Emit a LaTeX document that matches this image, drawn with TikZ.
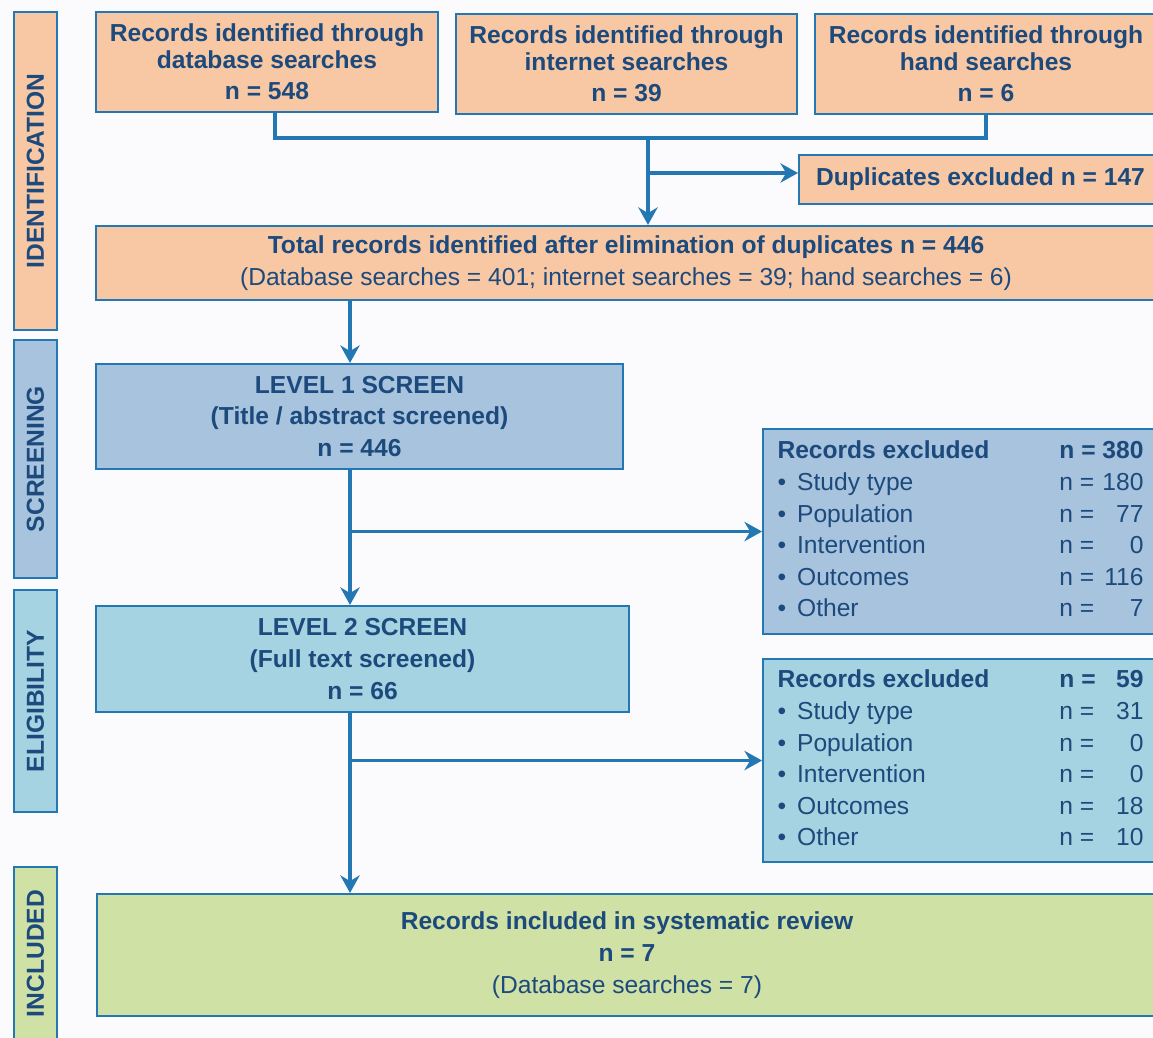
\documentclass[tikz,border=0pt]{standalone}
\usepackage{fontspec}
\setmainfont{Liberation Sans}
\usepackage{tikz}
\usetikzlibrary{arrows.meta,positioning}
\definecolor{edge}{HTML}{2378B4}
\definecolor{ink}{HTML}{1C4A7C}
\definecolor{idfill}{HTML}{F8C8A4}
\definecolor{scrfill}{HTML}{A7C3DD}
\definecolor{elifill}{HTML}{A5D3E2}
\definecolor{incfill}{HTML}{D0E1A5}
\definecolor{paper}{HTML}{FBFBFD}
\newcommand{\itm}{\textbullet\hspace{0.45em}}
\tikzset{>={Stealth[length=10pt,width=11pt]}}

\begin{document}
\begin{tikzpicture}[x=0.02cm,y=-0.02cm,
	every node/.style={text=ink,font=\fontsize{14pt}{18pt}\selectfont\bfseries},
	box/.style={draw=edge,line width=1.2pt,align=center,inner sep=0pt},
	flow/.style={draw=edge,line width=1.8pt}]
		\useasboundingbox (0,0) rectangle (1153,1038);
		\clip (0,0) rectangle (1153,1038);
		\fill[paper] (0,0) rectangle (1153,1038);
		\node[box,fill=idfill,rotate=90,minimum width=6.36cm,minimum height=0.86cm](sid) at (35.5,171){IDENTIFICATION};
		\node[box,fill=scrfill,rotate=90,minimum width=4.76cm,minimum height=0.86cm](sscr) at (35.5,459){SCREENING};
		\node[box,fill=elifill,rotate=90,minimum width=4.44cm,minimum height=0.86cm](selig) at (35.5,701){ELIGIBILITY};
		\node[box,fill=incfill,rotate=90,minimum width=3.46cm,minimum height=0.86cm](sinc) at (35.5,953.5){INCLUDED};
		\node[box,fill=idfill,minimum width=6.84cm,minimum height=2cm](db) at (267,62){Records identified through\\[-3pt]database searches\\n = 548};
		\node[box,fill=idfill,minimum width=6.82cm,minimum height=2cm](web) at (626.5,64){Records identified through\\[-3pt]internet searches\\n = 39};
		\node[box,fill=idfill,minimum width=6.84cm,minimum height=2cm](hand) at (986,64){Records identified through\\[-3pt]hand searches\\n = 6};
		\node[box,fill=idfill,anchor=west,minimum width=7.26cm,minimum height=0.98cm](dup) at (798,179.5){Duplicates excluded n = 147};
		\node[box,fill=idfill,minimum width=21.2cm,minimum height=1.48cm](tot) at (626,263){Total records identified after elimination of duplicates n = 446\\\textmd{(Database searches = 401; internet searches = 39; hand searches = 6)}};
		\node[box,fill=scrfill,minimum width=10.54cm,minimum height=2.1cm](lv1) at (359.5,416.5){LEVEL 1 SCREEN\\(Title / abstract screened)\\n = 446};
		\node[box,fill=elifill,minimum width=10.66cm,minimum height=2.12cm](lv2) at (362.5,659){LEVEL 2 SCREEN\\(Full text screened)\\n = 66};
		\node[box,fill=scrfill,anchor=north west,inner xsep=0.26cm,minimum width=7.9cm,minimum height=4.1cm](ex1) at (762,428){\mdseries
			\begin{tabular}{@{}p{5.64cm}@{}l@{\ }r@{}}
				\textbf{Records excluded} & \textbf{n =} & \textbf{380}\\
				\itm Study type & n = & 180\\
				\itm Population & n = & 77\\
				\itm Intervention & n = & 0\\
				\itm Outcomes & n = & 116\\
				\itm Other & n = & 7
			\end{tabular}};
		\node[box,fill=elifill,anchor=north west,inner xsep=0.26cm,minimum width=7.9cm,minimum height=4.06cm](ex2) at (762,658){\mdseries
			\begin{tabular}{@{}p{5.64cm}@{}l@{\ }r@{}}
				\textbf{Records excluded} & \textbf{n =} & \textbf{\hphantom{0}59}\\
				\itm Study type & n = & 31\\
				\itm Population & n = & 0\\
				\itm Intervention & n = & 0\\
				\itm Outcomes & n = & 18\\
				\itm Other & n = & 10
			\end{tabular}};
		\node[box,fill=incfill,minimum width=21.2cm,minimum height=2.44cm](inc) at (627,955){Records included in systematic review\\n = 7\\\textmd{(Database searches = 7)}};
		\coordinate(j0) at (275,112);
		\coordinate(j1) at (648,138);
		\coordinate(j2) at (648,173);
		\coordinate(s1) at (350,300);
		\coordinate(s2) at (350,469);
		\coordinate(s3) at (350,712);
		\draw[flow](j0)|-(hand.south|-j1)--(hand.south);
		\draw[flow,->](j1)--(j1|-tot.north);
		\draw[flow,->](j2)--(j2-|dup.west);
		\draw[flow,->](s1)--(s1|-lv1.north);
		\draw[flow,->](s2)--(s2|-lv2.north);
		\draw[flow,->](s2|-ex1.west)--(ex1.west);
		\draw[flow,->](s3)--(s3|-inc.north);
		\draw[flow,->](s3|-ex2.west)--(ex2.west);
	\end{tikzpicture}
\end{document}
